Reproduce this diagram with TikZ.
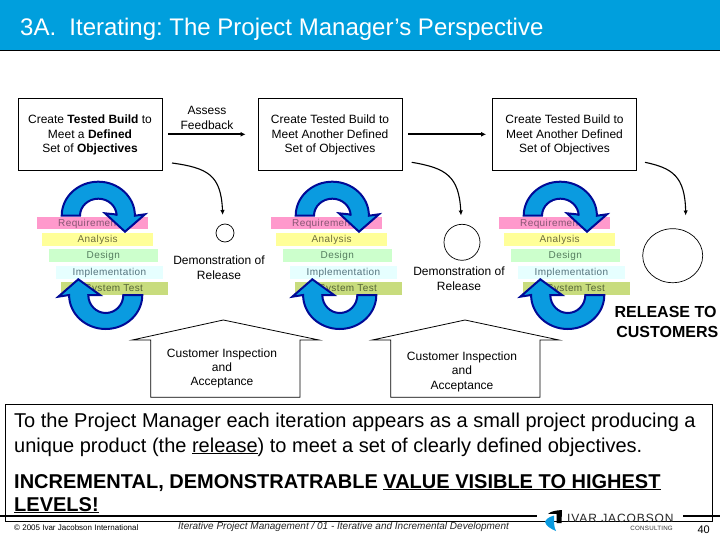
\documentclass[tikz,border=0pt]{standalone}
\usepackage{fontspec}
\setmainfont{Liberation Sans}
\newfontfamily\spacedbar[LetterSpace=4]{Liberation Sans}
\newfontfamily\spacedlogo[LetterSpace=7.5]{Liberation Sans}
\usetikzlibrary{shapes.geometric,arrows.meta}
\definecolor{band}{HTML}{009FDD}
\definecolor{cycfill}{HTML}{0A9BE0}
\definecolor{cycedge}{HTML}{000A96}
\newcommand{\fs}[2]{\fontsize{#1}{#2}\selectfont}
\frenchspacing
\tikzset{
  objbox/.style={draw=black,line width=0.9pt,minimum width=144pt,minimum height=72pt,inner sep=0pt,align=center,font=\fs{12}{14.6}},
  objtext/.style={inner sep=0pt,align=center,font=\fs{12}{14.6}},
  plain/.style={inner sep=0pt,align=center,font=\fs{12}{14.6}},
  flow/.style={line width=1.8pt,-{Latex[length=5pt,width=5pt]}},
  curvearrow/.style={line width=1.1pt,-{Latex[length=5pt,width=4.5pt]}},
  mile/.style={draw=black,line width=0.7pt,inner sep=0pt},
  barlabel/.style={inner sep=0pt,font=\spacedbar\fs{10}{12}},
  house/.style={draw=black,line width=0.8pt,fill=white},
  cyc/.style={draw=cycedge,line width=2pt,fill=cycfill,line join=miter},
  big/.style={inner sep=0pt,anchor=base west,font=\fs{20}{24}},
  bigb/.style={inner sep=0pt,anchor=base west,font=\fs{20}{24}\bfseries},
  rel/.style={inner sep=0pt,font=\fs{16}{18}\bfseries}
}
\begin{document}
\begin{tikzpicture}[x=1pt,y=-1pt]
\useasboundingbox (0,0) rectangle (720,540);
\fill[white] (0,0) rectangle (720,540);
\fill[band] (0,0) rectangle (720,50);
\draw[black,line width=1pt] (0,50.2) -- (720,50.2);
\node[inner sep=0pt,anchor=base west,text=white,font=\fs{24}{28}] (title) at (20,36) {3A.\hspace{0.55em}Iterating: The Project Manager’s Perspective};

% objective boxes
\node[objbox] (b1) at (90,134.3) {};
\node[objbox] (b2) at (330,134.3) {};
\node[objbox] (b3) at (564.5,134.3) {};
\node[objtext] (b1t) at (90,135) {Create \textbf{Tested Build} to\\Meet a \textbf{Defined}\\Set of \textbf{Objectives}};
\node[objtext] (b2t) at (330,135) {Create Tested Build to\\Meet Another Defined\\Set of Objectives};
\node[objtext] (b3t) at (564.5,135) {Create Tested Build to\\Meet Another Defined\\Set of Objectives};
\node[plain] (assess) at (207,118) {Assess\\Feedback};
\draw[flow,shorten <=6pt,shorten >=12pt] (b1.east) -- (b2.west);
\draw[flow,shorten <=6pt,shorten >=6pt] (b2.east) -- (b3.west);

% iteration stacks
\foreach \dx in {0,234,462}{
\begin{scope}[shift={(\dx,0)}]
  \fill[fill={rgb,255:red,255;green,153;blue,204}] (37,217) rectangle (148,229);
  \fill[fill={rgb,255:red,255;green,255;blue,153}] (42,233) rectangle (153,246);
  \fill[fill={rgb,255:red,204;green,255;blue,204}] (49,249) rectangle (158,262);
  \fill[fill={rgb,255:red,230;green,255;blue,255}] (56,266) rectangle (163,279);
  \fill[fill={rgb,255:red,200;green,220;blue,125}] (61,282) rectangle (168,295);
  \node[barlabel,text={rgb,255:red,135;green,85;blue,115},anchor=west] (req\dx) at (58,223.5) {Requirements};
  \node[barlabel,text={rgb,255:red,110;green,110;blue,60}] (ana\dx) at (97.7,239.7) {Analysis};
  \node[barlabel,text={rgb,255:red,85;green,125;blue,95}] (des\dx) at (103.3,255.7) {Design};
  \node[barlabel,text={rgb,255:red,85;green,115;blue,125}] (imp\dx) at (109.4,272.7) {Implementation};
  \node[barlabel,text={rgb,255:red,85;green,100;blue,55}] (sys\dx) at (114,288.7) {System Test};
  \draw[cyc] (61.7,215.7) arc[start angle=180,end angle=360,x radius=36.6,y radius=34]
     -- (145,214.3) -- (125,231.7) -- (105,213.3) -- (116.6,214.5) -- (116.6,215.7)
     arc[start angle=0,end angle=-180,x radius=18.3,y radius=17] -- cycle;
  \draw[cyc] (142.3,295) arc[start angle=0,end angle=180,x radius=36.6,y radius=34]
     -- (58.3,296.7) -- (78.3,279.3) -- (100,295) -- (88.3,295)
     arc[start angle=180,end angle=0,x radius=17.5,y radius=18] -- cycle;
\end{scope}}

% milestones
\node[mile,circle,minimum size=18pt] (c1) at (225,233) {};
\node[mile,circle,minimum size=36pt] (c2) at (462,242.3) {};
\node[mile,ellipse,minimum width=60pt,minimum height=54pt] (c3) at (672.7,255.7) {};
\node[plain] (d1) at (219,267.5) {Demonstration of\\Release};
\node[plain] (d2) at (459,279) {Demonstration of\\Release};
\node[rel] (r1) at (665.5,312.3) {RELEASE TO};
\node[rel] (r2) at (667.3,331.7) {CUSTOMERS};

% feedback curves
\coordinate (s1) at (172,163);
\coordinate (t1) at (222.7,215);
\coordinate (s2) at (411.7,162.3);
\coordinate (t2) at (461,215.5);
\coordinate (s3) at (645,162.3);
\coordinate (t3) at (685.7,215.5);
\draw[curvearrow] (s1) .. controls (208,168) and (221,175) .. (t1);
\draw[curvearrow] (s2) .. controls (446,168) and (459,176) .. (t2);
\draw[curvearrow] (s3) .. controls (672,168) and (685,176) .. (t3);

% houses
\draw[house] (132.3,340) -- (223.3,320) -- (319,340) -- (300,340) -- (300,397.3) -- (150.7,397.3) -- (150.7,340) -- cycle;
\draw[house] (372.3,340) -- (465,320) -- (559,340) -- (540,340) -- (540,397.3) -- (390.7,397.3) -- (390.7,340) -- cycle;
\node[plain,font=\fs{12}{14}] (h1) at (222,368.5) {Customer Inspection\\and\\Acceptance};
\node[plain,font=\fs{12}{14.4}] (h2) at (462,371.5) {Customer Inspection\\and\\Acceptance};

% text panel
\draw[black,line width=0.9pt] (5,404.5) rectangle (712,521);
\node[big] (t1a) at (14,427.5) {To the Project Manager each iteration appears as a small project producing a};
\node[big] (t1b) at (14,452) {unique product (the \underline{release}) to meet a set of clearly defined objectives.};
\node[bigb] (t2a) at (14,488) {INCREMENTAL, DEMONSTRATRABLE \underline{VALUE VISIBLE TO HIGHEST}};
\node[bigb] (t2b) at (14,511) {\underline{LEVELS!}};

% footer
\coordinate (fa) at (0,515.8);
\coordinate (fb) at (537,515.8);
\coordinate (fc) at (683,515.8);
\coordinate (fd) at (720,515.8);
\draw[black,line width=1.5pt] (fa) -- (fb);
\draw[black,line width=1.5pt] (fc) -- (fd);
\node[inner sep=0pt,anchor=base west,font=\fs{8}{10}] (copy) at (14,530) {© 2005 Ivar Jacobson International};
\node[inner sep=0pt,anchor=base west,font=\fs{10}{12}\itshape,text=black!85] (course) at (178,529.5) {Iterative Project Management / 01 - Iterative and Incremental Development};
\node[inner sep=0pt,anchor=base east,font=\fs{11}{13}] (page) at (710,533.5) {40};
% logo
\fill[black] (548,514) .. controls (551,511) and (556,510.5) .. (562,510) -- (561.5,523) -- (556.5,523) -- (556.5,514) .. controls (553,513.5) and (550,514) .. (548,514) -- cycle;
\fill[cycfill] (545,522) .. controls (546,519) and (549,517) .. (554,515.5) -- (554,523) .. controls (554,526) and (555,529) .. (556,531) .. controls (551,529) and (546,526) .. (545,522) -- cycle;
\node[inner sep=0pt,anchor=base west,font=\spacedlogo\fs{12}{14},text=black!85] (logo) at (567,522.8) {IVAR JACOBSON};
\node[inner sep=0pt,anchor=base east,font=\spacedbar\fs{6.2}{8},text=black!80] (cons) at (673,530.5) {CONSULTING};
\end{tikzpicture}
\end{document}
